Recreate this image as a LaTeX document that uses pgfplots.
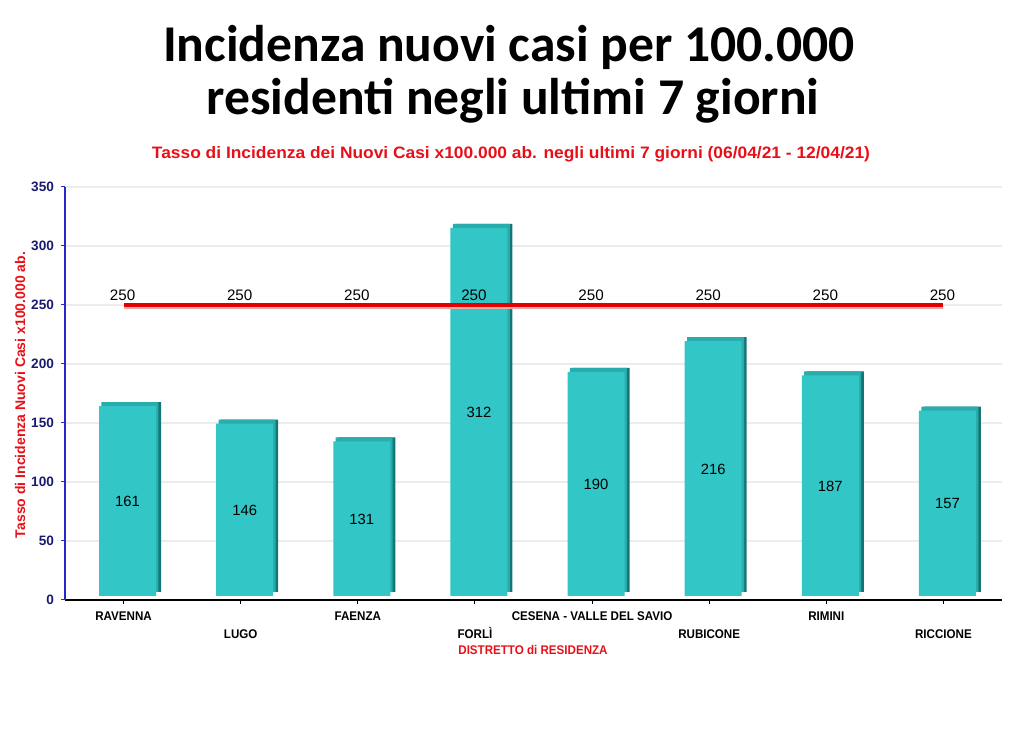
\documentclass[border=0pt]{standalone}
\usepackage{pgfplots}
\usepackage{pgfplotstable}
\pgfplotsset{compat=1.18}
\usepackage{graphicx}
\usepackage{fontspec}
\setmainfont{Liberation Sans}
\newfontfamily\titlefont{Carlito}
\newfontfamily\narrowfont[FakeStretch=0.92]{Liberation Sans}

\definecolor{myred}{RGB}{232,16,24}
\definecolor{navy}{RGB}{26,26,112}
\definecolor{ycol}{RGB}{40,40,200}
\definecolor{frontcol}{RGB}{50,198,198}
\definecolor{topcol}{RGB}{40,172,172}
\definecolor{sidecol}{RGB}{22,118,118}
\definecolor{gridcol}{RGB}{236,236,236}
\definecolor{linecol}{RGB}{228,0,0}
\definecolor{linefringe}{RGB}{240,170,170}

\pgfplotstableread{
x y
0 161
1 146
2 131
3 312
4 190
5 216
6 187
7 157
}\datatable

\pgfplotstableread{
x t
0 250
1 250
2 250
3 250
4 250
5 250
6 250
7 250
}\threshold

\begin{document}
\begin{tikzpicture}
\path[use as bounding box] (0,0) rectangle (512pt,366pt);
\node[anchor=base, inner sep=0, font=\titlefont\bfseries\fontsize{25.8}{26}\selectfont] at (254.5pt,335pt) {Incidenza nuovi casi per 100.000};
\node[anchor=base, inner sep=0, font=\titlefont\bfseries\fontsize{25.8}{26}\selectfont] at (256.5pt,308.5pt) {residenti negli ultimi 7 giorni};
\node[anchor=base, inner sep=0, text=myred] at (255.5pt,286.5pt) {\resizebox{359pt}{6pt}{\bfseries Tasso di Incidenza dei Nuovi Casi x100.000 ab. negli ultimi 7 giorni (06/04/21 - 12/04/21)}};
\node[rotate=90, inner sep=0, text=myred, font=\bfseries\fontsize{7}{8}\selectfont] at (10pt,168.5pt) {Tasso di Incidenza Nuovi Casi x100.000 ab.};

\begin{axis}[
  at={(32.5pt,66pt)}, anchor=south west,
  scale only axis, width=468.5pt, height=206.5pt,
  xmin=-0.5, xmax=7.5, ymin=0, ymax=350,
  axis x line*=bottom, axis y line*=left,
  x axis line style={black, line width=0.6pt},
  y axis line style={ycol, line width=0.6pt},
  xtick={0,2,4,6},
  xticklabels={RAVENNA,FAENZA,CESENA - VALLE DEL SAVIO,RIMINI},
  extra x ticks={1,3,5,7},
  extra x tick labels={LUGO,FORLÌ,RUBICONE,RICCIONE},
  extra x tick style={xticklabel style={yshift=-9pt}},
  ytick={0,50,...,350},
  ymajorgrids, grid style={gridcol, line width=0.6pt},
  tick align=outside, major tick length=2pt,
  xtick style={black, line width=0.5pt},
  ytick style={ycol, line width=0.5pt},
  xticklabel style={font=\narrowfont\bfseries\fontsize{6.3}{7}\selectfont, text=black, text height=4.6pt, text depth=0pt},
  yticklabel style={font=\bfseries\fontsize{6.8}{8}\selectfont, text=navy},
  /pgf/number format/assume math mode=true,
  clip=false,
]
\addplot[ybar, bar width=28.5pt, bar shift=2pt, fill=sidecol, draw=none, xshift=2.5pt, yshift=4pt] table[x=x,y=y]{\datatable};
\addplot[ybar, bar width=28.5pt, bar shift=2pt, fill=topcol, draw=none, xshift=1.2pt, yshift=4pt] table[x=x,y=y]{\datatable};
\addplot[ybar, bar width=28.5pt, bar shift=2pt, fill=frontcol, draw=none, yshift=2pt] table[x=x,y=y]{\datatable};
\addplot[linefringe, line width=1pt, mark=none, yshift=-1.6pt] table[x=x,y=t]{\threshold};
\addplot[linecol, line width=2.4pt, mark=none,
  nodes near coords, point meta=explicit symbolic,
  nodes near coords style={anchor=south, inner sep=0, text=black, yshift=1.2pt, xshift=-0.5pt, font=\fontsize{7.6}{8}\selectfont}]
  table[x=x,y=t,meta=t]{\threshold};
\addplot[draw=none, mark=none,
  nodes near coords, point meta=explicit symbolic,
  nodes near coords style={anchor=center, inner sep=0, text=black, xshift=2pt, font=\fontsize{7.4}{8}\selectfont}]
  table[x=x, y expr=\thisrow{y}/2+3, meta=y]{\datatable};
\end{axis}
\node[inner sep=0, text=myred, font=\narrowfont\bfseries\fontsize{6.3}{7}\selectfont] at (266.5pt,41pt) {DISTRETTO di RESIDENZA};
\end{tikzpicture}
\end{document}
